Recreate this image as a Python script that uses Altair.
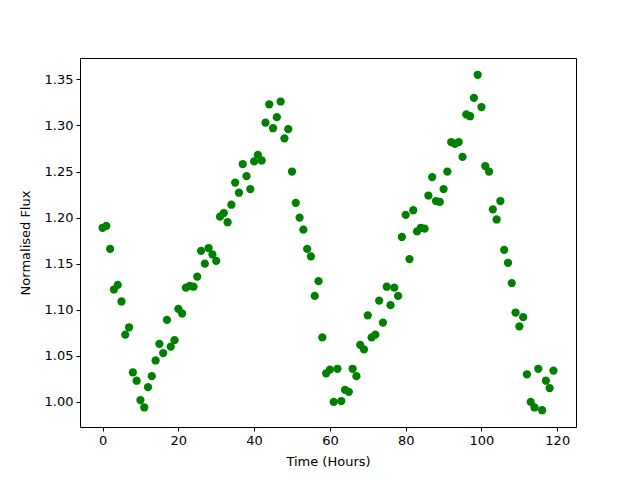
import altair as alt
import pandas as pd

hours = list(range(120))
flux = [
    1.189, 1.191, 1.166, 1.122, 1.127, 1.109, 1.073, 1.081, 1.032, 1.023,
    1.002, 0.994, 1.016, 1.028, 1.045, 1.063, 1.053, 1.089, 1.060, 1.067,
    1.101, 1.096, 1.124, 1.126, 1.125, 1.136, 1.164, 1.150, 1.167, 1.160,
    1.153, 1.201, 1.205, 1.195, 1.214, 1.238, 1.227, 1.258, 1.245, 1.231,
    1.261, 1.268, 1.262, 1.303, 1.323, 1.297, 1.309, 1.326, 1.286, 1.296,
    1.250, 1.216, 1.200, 1.187, 1.166, 1.158, 1.115, 1.131, 1.070, 1.031,
    1.035, 1.000, 1.036, 1.001, 1.013, 1.011, 1.036, 1.028, 1.062, 1.057,
    1.094, 1.070, 1.073, 1.110, 1.086, 1.125, 1.105, 1.124, 1.115, 1.179,
    1.203, 1.155, 1.208, 1.185, 1.189, 1.188, 1.224, 1.244, 1.218, 1.217,
    1.231, 1.250, 1.282, 1.280, 1.282, 1.266, 1.312, 1.310, 1.330, 1.355,
    1.320, 1.256, 1.250, 1.209, 1.198, 1.218, 1.165, 1.151, 1.129, 1.097,
    1.082, 1.092, 1.030, 1.000, 0.994, 1.036, 0.991, 1.023, 1.015, 1.034,
]
x_ticks = [0, 20, 40, 60, 80, 100, 120]
y_ticks = [1.00, 1.05, 1.10, 1.15, 1.20, 1.25, 1.30, 1.35]

df = pd.DataFrame({"hours": hours, "flux": flux})

chart = alt.Chart(df).mark_circle(size=68, color="#008000", opacity=1).encode(
    x=alt.X("hours:Q",
            scale=alt.Scale(domain=[-5.95, 124.95], nice=False, zero=False),
            axis=alt.Axis(values=x_ticks, title="Time (Hours)", format="d")),
    y=alt.Y("flux:Q",
            scale=alt.Scale(domain=[0.9728, 1.3732], nice=False, zero=False),
            axis=alt.Axis(values=y_ticks, title="Normalised Flux", format=".2f")),
).properties(
    width=496, height=369,
    autosize=alt.AutoSizeParams(type="none"),
    padding={"left": 72, "top": 50, "right": 56, "bottom": 45},
).configure_view(
    stroke="black", strokeWidth=1
).configure_axis(
    grid=False, domain=False, tickColor="black", tickSize=4, tickWidth=1,
    labelFont="DejaVu Sans", labelFontSize=13, labelColor="black", labelPadding=3,
    titleFont="DejaVu Sans", titleFontSize=13, titleFontWeight="normal", titleColor="black",
).configure_axisX(titlePadding=8).configure_axisY(titlePadding=12)

chart.save("out.html", embed_options={"renderer": "svg", "actions": False})
